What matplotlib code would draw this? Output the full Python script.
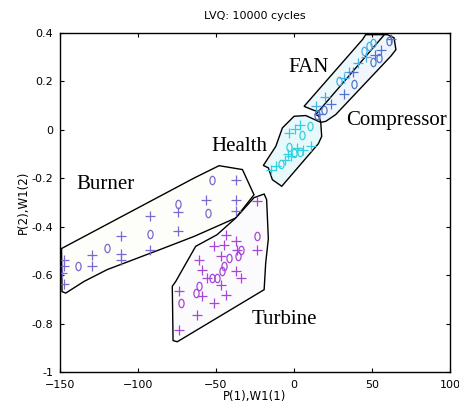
import matplotlib
matplotlib.use("Agg")
import matplotlib.pyplot as plt
from matplotlib.path import Path
from matplotlib.transforms import Affine2D

# cluster boundaries (data coords)
burner_x = [-149, -64, -48, -33, -25.6, -37.3, -64, -83.3, -119.7, -134.6, -146.3, -148.7]
burner_y = [-0.49, -0.199, -0.148, -0.164, -0.268, -0.364, -0.44, -0.488, -0.577, -0.626, -0.674, -0.668]

turbine_x = [-37.3, -25.6, -19.1, -17.5, -16.4, -18.1, -19.1, -74.8, -77.5, -78.0, -75.8, -63.0, -49.3]
turbine_y = [-0.364, -0.280, -0.265, -0.288, -0.45, -0.55, -0.66, -0.875, -0.87, -0.646, -0.626, -0.481, -0.433]

health_x = [0.1, 7.6, 17.2, 17.8, 15.7, -7.8, -13.8, -16.4, -19.6, -11.6, -7.4]
health_y = [0.056, 0.059, 0.031, -0.027, -0.057, -0.233, -0.206, -0.157, -0.147, -0.068, 0.008]

fan_x = [6.5, 13, 16, 59, 57.5, 46, 44]
fan_y = [0.097, 0.08, 0.075, 0.39, 0.393, 0.393, 0.373]

comp_x = [60, 64.2, 65.4, 62.1, 26.8, 20.4, 17.2, 16.1, 14, 58]
comp_y = [0.393, 0.38, 0.331, 0.304, 0.063, 0.035, 0.031, 0.056, 0.063, 0.393]

# burner samples
burner_plus_x = [-147.4, -147.4, -148.5, -147.4, -129.3, -129.3, -111.1, -111.1, -111.1,
                 -92.5, -92.5, -74.1, -74.1, -56.2, -36.9, -36.9, -36.9]
burner_plus_y = [-0.536, -0.564, -0.591, -0.635, -0.516, -0.564, -0.44, -0.513, -0.536,
                 -0.357, -0.495, -0.339, -0.416, -0.288, -0.206, -0.288, -0.337]
burner_o_x = [-138.3, -119.6, -92.5, -74.1, -55.1, -52.7]
burner_o_y = [-0.564, -0.488, -0.429, -0.305, -0.343, -0.206]

# turbine samples
turbine_plus_x = [-23.4, -23.4, -37.3, -36.3, -43.8, -44.8, -51.2, -46.9, -37.3, -34.1,
                  -58.7, -60.8, -55.5, -46.9, -43.8, -58.7, -51.2, -73.7, -61.9, -73.7]
turbine_plus_y = [-0.295, -0.495, -0.461, -0.495, -0.433, -0.474, -0.481, -0.522, -0.584, -0.612,
                  -0.577, -0.536, -0.612, -0.639, -0.681, -0.688, -0.715, -0.667, -0.763, -0.825]
turbine_o_x = [-23.4, -34.1, -35.6, -41.6, -44.8, -45.9, -49.1, -52.3, -60.8, -63.0, -72.6]
turbine_o_y = [-0.44, -0.495, -0.522, -0.529, -0.564, -0.584, -0.612, -0.612, -0.646, -0.673, -0.715]

# health samples
health_plus_x = [-14.5, -11.5, -3, 1, 11, -2, 6, 4, 2, -4, -6]
health_plus_y = [-0.165, -0.15, -0.015, 0.005, -0.065, -0.11, -0.085, 0.02, -0.075, -0.1, -0.125]
health_o_x = [-8, 0, 5, 10.5, -3, 4]
health_o_y = [-0.14, -0.095, -0.02, 0.015, -0.07, -0.09]

# fan samples
fan_plus_x = [14, 20, 32, 35, 41, 46]
fan_plus_y = [0.10, 0.135, 0.215, 0.24, 0.275, 0.30]
fan_o_x = [29, 45, 48, 50.5]
fan_o_y = [0.20, 0.325, 0.345, 0.36]

# compressor samples
comp_plus_x = [16, 23.5, 32, 38, 52, 56, 62]
comp_plus_y = [0.065, 0.105, 0.15, 0.24, 0.31, 0.33, 0.375]
comp_o_x = [19, 38.5, 51, 54.5, 61, 15]
comp_o_y = [0.08, 0.19, 0.28, 0.295, 0.365, 0.06]

labels = ["Burner", "Turbine", "Health", "FAN", "Compressor"]
label_x = [-120.7, -6.3, -35.2, 9.3, 65.7]
label_y = [-0.226, -0.784, -0.068, 0.256, 0.039]

# tall narrow ring, looks like the "0" glyphs of the original
zero = Path.unit_circle().transformed(Affine2D().scale(0.62, 1.0))

fig = plt.figure(figsize=(4.6, 4.12), dpi=100)
ax = fig.add_axes([0.1304, 0.097, 0.8476, 0.823])

polys = [
    (burner_x, burner_y, "#fdfdf9"),
    (turbine_x, turbine_y, "#fbfafc"),
    (health_x, health_y, "#e8f9fb"),
    (fan_x, fan_y, "#ecf8fc"),
    (comp_x, comp_y, "#f0f6fc"),
]
for px, py, fc in polys:
    ax.fill(px, py, facecolor=fc, edgecolor="black", linewidth=1.0, zorder=1)

groups = [
    (burner_plus_x, burner_plus_y, burner_o_x, burner_o_y, "#7c68d0"),
    (turbine_plus_x, turbine_plus_y, turbine_o_x, turbine_o_y, "#a648d6"),
    (health_plus_x, health_plus_y, health_o_x, health_o_y, "#2fd0e2"),
    (fan_plus_x, fan_plus_y, fan_o_x, fan_o_y, "#48aee6"),
    (comp_plus_x, comp_plus_y, comp_o_x, comp_o_y, "#4f74d4"),
]
for plx, ply, ox, oy, col in groups:
    ax.plot(plx, ply, "+", color=col, markersize=7, markeredgewidth=0.9, zorder=2)
    ax.plot(ox, oy, linestyle="none", marker=zero, markerfacecolor="none",
            markeredgecolor=col, markeredgewidth=0.9, markersize=6, zorder=2)

for t, x, y in zip(labels, label_x, label_y):
    ax.text(x, y, t, ha="center", va="center", fontsize=15,
            family="Liberation Serif", zorder=3)

ax.set_xlim(-150, 100)
ax.set_ylim(-1, 0.4)
ax.set_xticks([-150, -100, -50, 0, 50, 100])
ax.set_yticks([-1, -0.8, -0.6, -0.4, -0.2, 0, 0.2, 0.4])
ax.set_yticklabels(["-1", "-0.8", "-0.6", "-0.4", "-0.2", "0", "0.2", "0.4"])
ax.tick_params(direction="in", length=3, top=True, right=True, labelsize=8)
ax.tick_params(axis="x", pad=6)
ax.tick_params(axis="y", pad=5)
for s in ax.spines.values():
    s.set_linewidth(1.0)

ax.set_title("LVQ: 10000 cycles", fontsize=8, pad=10)
ax.set_xlabel("P(1),W1(1)", fontsize=8.5, labelpad=0)
ax.set_ylabel("P(2),W1(2)", fontsize=8.5, labelpad=1)

fig.savefig("out.png", dpi=100)
